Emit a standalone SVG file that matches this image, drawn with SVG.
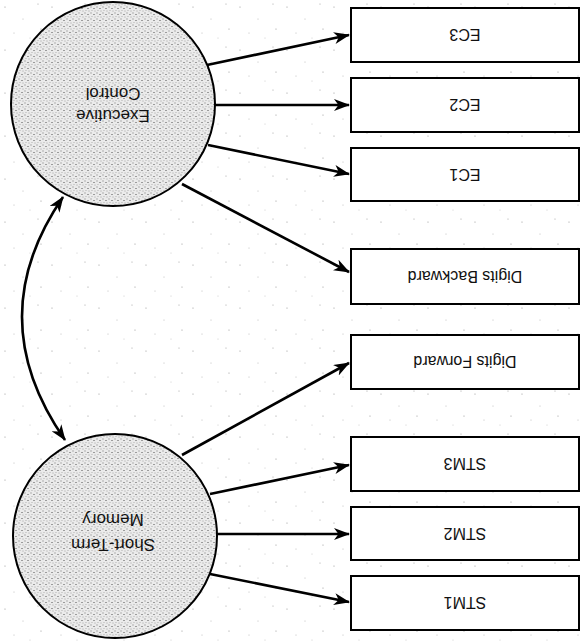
<svg xmlns="http://www.w3.org/2000/svg" width="581" height="644" viewBox="0 0 581 644">
  <style>
    .box rect { fill: #ffffff; stroke: #000; stroke-width: 2; }
    .lbl { font-family: "Liberation Sans", Arial, sans-serif; font-size: 16px; fill: #111; text-anchor: middle; }
    .clbl { font-family: "Liberation Sans", Arial, sans-serif; font-size: 17px; fill: #111; text-anchor: middle; }
    .latent circle { fill: url(#stip); stroke: #000; stroke-width: 2; }
    .conn path { fill: none; stroke: #000; stroke-width: 2.6; }
    .arr { marker-end: url(#ah); }
    .dbl { marker-end: url(#ah); marker-start: url(#ah); }
  </style>
  <defs>
    <pattern id="stip" width="6" height="6" patternUnits="userSpaceOnUse">
      <rect width="6" height="6" fill="#ebebeb"/>
      <circle cx="1" cy="1" r="0.7" fill="#999"/>
      <circle cx="4" cy="2.5" r="0.55" fill="#333"/>
      <circle cx="2" cy="4.5" r="0.6" fill="#aaa"/>
      <circle cx="5" cy="5" r="0.45" fill="#555"/>
    </pattern>
    <pattern id="bgdots" width="47" height="43" patternUnits="userSpaceOnUse">
      <circle cx="5" cy="7" r="0.6" fill="#777"/>
      <circle cx="23" cy="19" r="0.5" fill="#999"/>
      <circle cx="38" cy="4" r="0.6" fill="#888"/>
      <circle cx="14" cy="33" r="0.5" fill="#999"/>
      <circle cx="41" cy="29" r="0.6" fill="#777"/>
      <circle cx="30" cy="38" r="0.5" fill="#aaa"/>
    </pattern>
    <marker id="ah" viewBox="0 0 16 12" refX="15" refY="6" markerWidth="16" markerHeight="12" markerUnits="userSpaceOnUse" orient="auto-start-reverse">
      <path d="M0,0 L16,6 L0,12 L4.5,6 Z" fill="#000"/>
    </marker>
  </defs>

  <rect width="581" height="644" fill="#ffffff"/>
  <rect width="581" height="644" fill="url(#bgdots)" opacity="0.8"/>

  <g id="connectors" class="conn">
    <path class="arr" d="M207,65 L349,35"/>
    <path class="arr" d="M215,105 L349,105"/>
    <path class="arr" d="M208,145 L349,174"/>
    <path class="arr" d="M182,184 L349,272"/>
    <path class="arr" d="M182,455 L349,363"/>
    <path class="arr" d="M210,494 L349,465"/>
    <path class="arr" d="M217,534 L349,534"/>
    <path class="arr" d="M210,574 L349,602"/>
    <path class="dbl" d="M63,197 Q-20,318 65,440"/>
  </g>

  <g id="executive-control" class="latent">
    <circle cx="113" cy="104" r="102"/>
    <g transform="rotate(180 113 105)">
      <text class="clbl" x="113" y="100">Executive</text>
      <text class="clbl" x="113" y="122">Control</text>
    </g>
  </g>
  <g id="short-term-memory" class="latent">
    <circle cx="115" cy="536" r="102"/>
    <g transform="rotate(180 113 532)">
      <text class="clbl" x="113" y="525.5">Short-Term</text>
      <text class="clbl" x="113" y="550.5">Memory</text>
    </g>
  </g>

  <g id="ec3" class="box"><rect x="351" y="8" width="228" height="54"/><text class="lbl" x="465" y="40.6" transform="rotate(180 465 35)">EC3</text></g>
  <g id="ec2" class="box"><rect x="351" y="78" width="228" height="54"/><text class="lbl" x="465" y="110.6" transform="rotate(180 465 105)">EC2</text></g>
  <g id="ec1" class="box"><rect x="351" y="148" width="228" height="53"/><text class="lbl" x="465" y="180.1" transform="rotate(180 465 174.5)">EC1</text></g>
  <g id="digits-backward" class="box"><rect x="351" y="249" width="228" height="55"/><text class="lbl" x="465" y="282.1" transform="rotate(180 465 276.5)">Digits Backward</text></g>
  <g id="digits-forward" class="box"><rect x="351" y="335" width="228" height="54"/><text class="lbl" x="465" y="367.6" transform="rotate(180 465 362)">Digits Forward</text></g>
  <g id="stm3" class="box"><rect x="351" y="437" width="228" height="54"/><text class="lbl" x="465" y="469.6" transform="rotate(180 465 464)">STM3</text></g>
  <g id="stm2" class="box"><rect x="351" y="507" width="228" height="53"/><text class="lbl" x="465" y="539.1" transform="rotate(180 465 533.5)">STM2</text></g>
  <g id="stm1" class="box"><rect x="351" y="576" width="228" height="54"/><text class="lbl" x="465" y="608.6" transform="rotate(180 465 603)">STM1</text></g>
</svg>
